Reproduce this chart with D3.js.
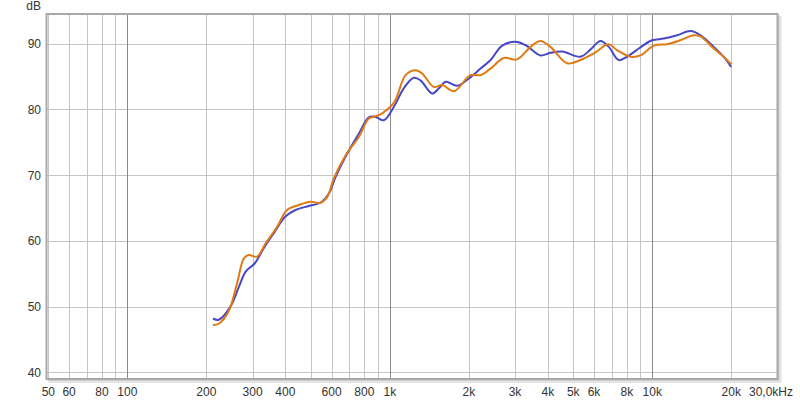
<!DOCTYPE html>
<html>
<head>
<meta charset="utf-8">
<script src="https://cdn.jsdelivr.net/npm/d3@7"></script>
<style>
  html, body { margin: 0; padding: 0; background: #ffffff; }
  svg { display: block; }
  text { font-family: "Liberation Sans", Arial, sans-serif; font-size: 12px; fill: #333; }
</style>
</head>
<body>
<svg id="chart" width="800" height="400"></svg>
<script>
// ---- data ----
const blueFreq = [212, 223, 247, 266, 282, 306, 331, 361, 400, 437, 491, 544, 586, 621, 678, 762, 832, 883, 949, 1040, 1130, 1234, 1309, 1451, 1539, 1631, 1806, 2000, 2217, 2421, 2682, 3057, 3337, 3748, 4093, 4538, 5325, 5850, 6350, 6828, 7450, 8017, 8883, 9980, 11060, 12440, 13990, 15280, 17150, 18720, 19980];
const blueDb   = [48.2, 48.0, 50.0, 53.0, 55.3, 56.6, 58.9, 61.15, 63.7, 64.7, 65.3, 65.8, 67.2, 69.7, 72.8, 76.3, 78.8, 78.85, 78.35, 80.5, 83.2, 84.8, 84.4, 82.4, 83.2, 84.2, 83.6, 84.7, 86.2, 87.5, 89.7, 90.25, 89.6, 88.2, 88.6, 88.8, 88.0, 89.2, 90.4, 89.5, 87.5, 88.0, 89.25, 90.5, 90.76, 91.26, 91.9, 91.26, 89.5, 87.97, 86.45];

const orangeFreq = [212, 223, 243, 262, 278, 290, 312, 336, 372, 406, 450, 499, 544, 578, 612, 678, 762, 832, 883, 935, 1040, 1148, 1254, 1328, 1472, 1584, 1754, 2028, 2217, 2421, 2718, 3057, 3436, 3748, 4093, 4742, 5325, 5985, 6828, 7340, 8262, 9021, 10140, 11400, 12790, 14390, 15280, 17150, 18720, 20000];
const orangeDb   = [47.2, 47.4, 49.25, 53.6, 57.35, 57.85, 57.6, 59.6, 62.15, 64.7, 65.45, 65.95, 65.8, 66.7, 69.5, 73.0, 75.8, 78.6, 78.95, 79.4, 81.1, 85.2, 85.95, 85.45, 83.4, 83.7, 82.75, 85.2, 85.2, 86.2, 87.8, 87.6, 89.5, 90.4, 89.5, 87.0, 87.5, 88.5, 89.9, 89.0, 88.0, 88.2, 89.7, 89.9, 90.5, 91.26, 91.1, 89.24, 87.97, 86.86];

const xGrid = [50, 60, 70, 80, 90, 100, 200, 300, 400, 500, 600, 700, 800, 900, 1000, 2000, 3000, 4000, 5000, 6000, 7000, 8000, 9000, 10000, 20000];
const xMajor = [100, 1000, 10000];
const xTickValues = [50, 60, 80, 100, 200, 300, 400, 600, 800, 1000, 2000, 3000, 4000, 5000, 6000, 8000, 10000, 20000];
const xTickLabels = ["50", "60", "80", "100", "200", "300", "400", "600", "800", "1k", "2k", "3k", "4k", "5k", "6k", "8k", "10k", "20k"];
const xEndLabel = "30,0kHz";
const yTicks = [40, 50, 60, 70, 80, 90];
const yUnit = "dB";

// ---- scales ----
const L = 46.5, R = 777.5, T = 14, B = 379;
const x = d3.scaleLog().domain([49.2, 30000]).range([L, R]);
const y = d3.scaleLinear().domain([39, 94.5]).range([B, T]);

const svg = d3.select("#chart");

// shadow
const defs = svg.append("defs");
defs.append("clipPath").attr("id", "clip")
  .append("rect").attr("x", L).attr("y", T).attr("width", R - L).attr("height", B - T);

svg.append("rect").attr("x", L + 2).attr("y", T + 2).attr("width", R - L + 2).attr("height", B - T + 2)
  .attr("fill", "#e4e4e4");
svg.append("rect").attr("x", L + 1).attr("y", T + 1).attr("width", R - L + 1).attr("height", B - T + 1)
  .attr("fill", "#d0d0d0");
svg.append("rect").attr("x", L).attr("y", T).attr("width", R - L).attr("height", B - T)
  .attr("fill", "#ffffff");

// grid
const g = svg.append("g").attr("clip-path", "url(#clip)");
g.selectAll("line.h").data(yTicks).enter().append("line")
  .attr("x1", L).attr("x2", R)
  .attr("y1", d => Math.round(y(d)) + 0.5).attr("y2", d => Math.round(y(d)) + 0.5)
  .attr("stroke", "#c4c4c4").attr("stroke-width", 1);
g.selectAll("line.v").data(xGrid).enter().append("line")
  .attr("x1", d => Math.round(x(d)) + 0.5).attr("x2", d => Math.round(x(d)) + 0.5)
  .attr("y1", T).attr("y2", B)
  .attr("stroke", d => xMajor.includes(d) ? "#8a8a8a" : "#c4c4c4").attr("stroke-width", 1);

// lines
const line = d3.line().x(d => x(d[0])).y(d => y(d[1])).curve(d3.curveCatmullRom.alpha(0.5));
g.append("path").datum(blueFreq.map((f, i) => [f, blueDb[i]]))
  .attr("d", line).attr("fill", "none").attr("stroke", "#4848c6").attr("stroke-width", 2)
  .attr("stroke-linejoin", "round");
g.append("path").datum(orangeFreq.map((f, i) => [f, orangeDb[i]]))
  .attr("d", line).attr("fill", "none").attr("stroke", "#e07a14").attr("stroke-width", 2)
  .attr("stroke-linejoin", "round");

// frame
svg.append("rect").attr("x", L).attr("y", T).attr("width", R - L).attr("height", B - T)
  .attr("fill", "none").attr("stroke", "#a8a8a8").attr("stroke-width", 2);

// y labels
svg.selectAll("text.y").data(yTicks).enter().append("text")
  .attr("x", 41).attr("y", d => y(d) + 4.5).attr("text-anchor", "end").text(d => d);
svg.append("text").attr("x", 41).attr("y", 10).attr("text-anchor", "end").text(yUnit);

// x labels
svg.selectAll("text.x").data(xTickValues).enter().append("text")
  .attr("x", d => x(d)).attr("y", 396).attr("text-anchor", "middle")
  .text((d, i) => xTickLabels[i]);
svg.append("text").attr("x", 793).attr("y", 396).attr("text-anchor", "end").text(xEndLabel);
</script>
</body>
</html>
